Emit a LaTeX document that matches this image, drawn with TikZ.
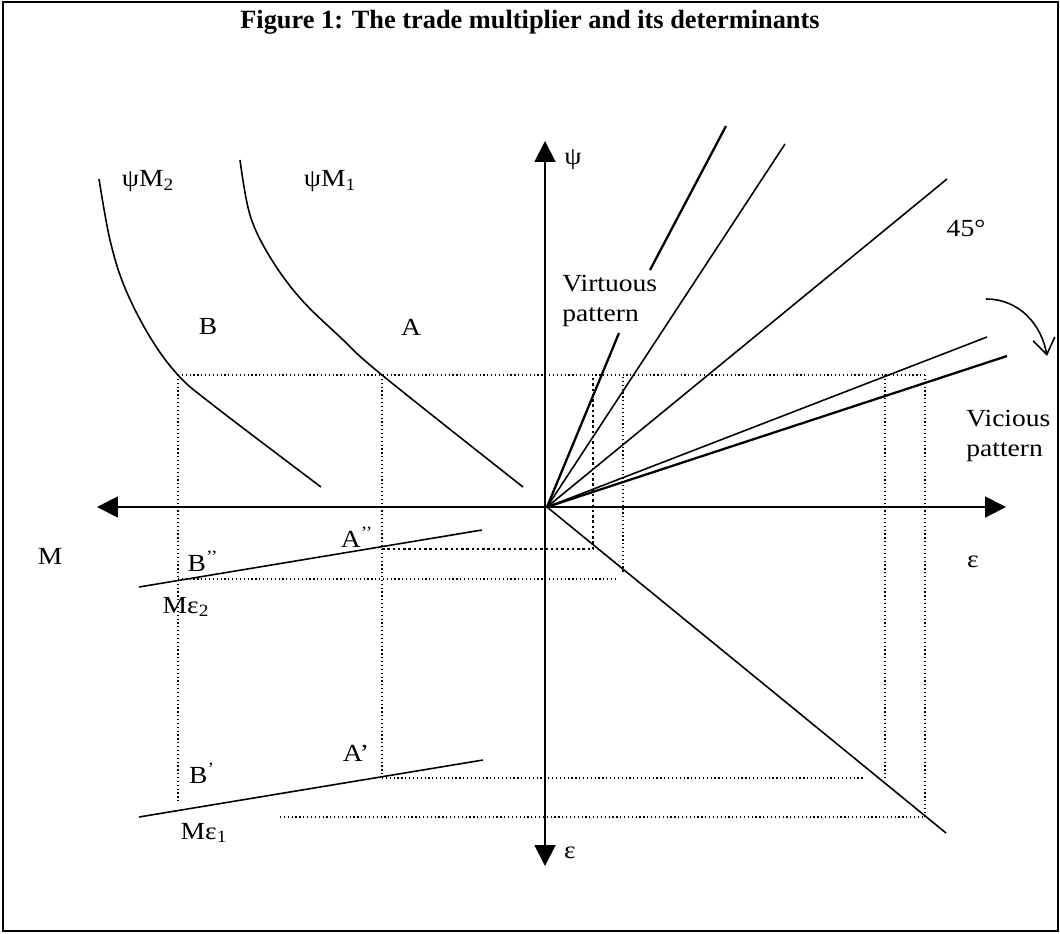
\documentclass[tikz,border=0pt]{standalone}
\usepackage{fontspec}
\setmainfont{Liberation Serif}
\newfontfamily\lblfont[FakeStretch=1.12]{Liberation Serif}
\usetikzlibrary{arrows.meta,positioning}

\begin{document}
\begin{tikzpicture}[x=0.02cm,y=-0.02cm,
		axis/.style={line width=1.1pt,-{Triangle[length=0.42cm,width=0.42cm]}},
		curve/.style={line width=0.9pt},
		ray/.style={line width=0.9pt},
		heavy/.style={line width=1.3pt},
		guide/.style={line width=0.7pt,dash pattern=on 0.7pt off 1.5pt},
		boldguide/.style={line width=1.4pt,dash pattern=on 1.4pt off 1.6pt},
		lbl/.style={font=\lblfont\fontsize{14}{17.5}\selectfont,inner sep=0pt},
	]
	\useasboundingbox (0,0) rectangle (1060,933);
	\draw[line width=1pt] (3,931) -- (3,2) -- (1058,2) -- (1058,931) -- cycle;
	\node[font=\bfseries\fontsize{15}{18}\selectfont] (title) at (530,22) {Figure 1: The trade multiplier and its determinants};

	% axes
	\coordinate (O) at (545,507);
	\coordinate (Mend) at (97,507);
	\coordinate (Eend) at (1006,507);
	\coordinate (Pend) at (545,141);
	\coordinate (Dend) at (545,866);
	\draw[axis] (O) -- (Mend);
	\draw[axis] (O) -- (Eend);
	\draw[axis] (O) -- (Pend);
	\draw[axis] (O) -- (Dend);
	\node[lbl] (psi) at (573,160) {ψ};
	\node[lbl] (m) at (50,556) {M};
	\node[lbl] (epsr) at (973,562) {ε};
	\node[lbl] (epsd) at (570,853) {ε};

	% psi M curves
	\draw[curve] plot[smooth,tension=0.6] coordinates {(99,179) (110,240) (125,288) (150,337) (178,375) (213,405) (321,487)};
	\draw[curve] plot[smooth,tension=0.6] coordinates {(240,160) (250,215) (270,257) (300,298) (340,337) (382,375) (523,487)};
	\node[lbl] (psim2) at (148,181) {ψM\textsubscript{2}};
	\node[lbl] (psim1) at (330,181) {ψM\textsubscript{1}};
	\node[lbl] (b) at (208,326) {B};
	\node[lbl] (a) at (411,327) {A};

	% rays from the origin
	\coordinate (R) at (547,507);
	\draw[heavy] (R) -- (619,333);
	\draw[heavy] (650,270) -- (726,126);
	\draw[ray] (R) -- (785,144);
	\draw[ray] (R) -- (947,179);
	\draw[ray] (R) -- (987,337);
	\draw[heavy] (R) -- (1007,356);
	\draw[ray] (R) -- (946,833);
	\node[lbl,align=left,anchor=west] (virt) at (562,301) {Virtuous\\pattern};
	\node[lbl] (deg) at (966,228) {45°};
	\node[lbl,align=left,anchor=west] (vic) at (966,436) {Vicious\\pattern};
	\draw[line width=0.9pt,-{Straight Barb[length=0.32cm,width=0.44cm]}] (986,299) to[out=0,in=100] (1047,356);

	% M epsilon lines
	\draw[ray] (139,587) -- (482,530);
	\draw[ray] (139,817) -- (483,760);
	\node[lbl] (me2) at (186,607) {Mε\textsubscript{2}};
	\node[lbl] (me1) at (204,833) {Mε\textsubscript{1}};
	\node[lbl] (app) at (357,537) {A\textsuperscript{’’}};
	\node[lbl] (bpp) at (203,561) {B\textsuperscript{’’}};
	\node[lbl] (ap) at (356,753) {A’};
	\node[lbl] (bp) at (202,773) {B\textsuperscript{’}};

	% guide lines
	\draw[guide] (178,375) -- (925,375);
	\draw[guide] (178,375) -- (178,803);
	\draw[guide] (382,375) -- (382,775);
	\draw[guide] (178,579) -- (617,579);
	\draw[guide] (623,377) -- (623,572);
	\draw[boldguide] (593,378) -- (593,549) -- (382,549);
	\draw[guide] (382,778) -- (865,778);
	\draw[guide] (885,375) -- (885,778);
	\draw[guide] (280,817) -- (925,817);
	\draw[guide] (925,375) -- (925,817);
\end{tikzpicture}
\end{document}
